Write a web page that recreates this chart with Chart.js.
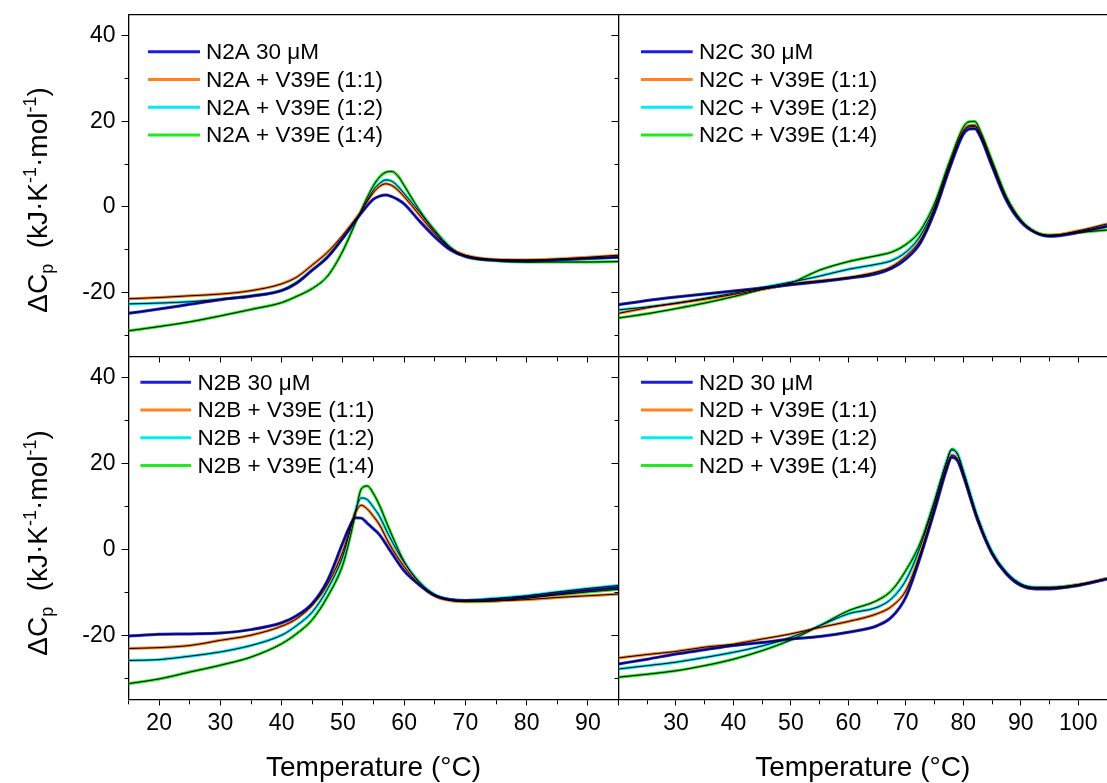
<!DOCTYPE html>
<html><head><meta charset="utf-8">
<script src="https://cdn.jsdelivr.net/npm/chart.js@4.4.1/dist/chart.umd.min.js"></script>
<style>
html,body{margin:0;padding:0;background:#fff;}
#wrap{position:relative;width:1107px;height:783px;overflow:hidden;background:#fff;}
#wrap canvas{position:absolute;left:0;top:0;}
</style></head><body>
<div id="wrap">
<canvas id="cTL" width="1107" height="783"></canvas>
<canvas id="cTR" width="1107" height="783"></canvas>
<canvas id="cBL" width="1107" height="783"></canvas>
<canvas id="cBR" width="1107" height="783"></canvas>
</div>
<script>
// ---------------- DATA ----------------
const yTickValues = [-30, -20, -10, 0, 10, 20, 30, 40];
const yTickLabels = [-20, 0, 20, 40];
const seriesSuffix = [" 30 \u03bcM", " + V39E (1:1)", " + V39E (1:2)", " + V39E (1:4)"];

// N2A (top left)
const tempN2A = [15,20,25,30,35,40,42.5,45,47.5,50,52.5,55,56,57,58,59,60,62.5,65,67.5,70,75,80,85,90,95];
const n2a_30  = [-24.9,-23.9,-22.8,-21.7,-20.9,-19.6,-17.8,-14.8,-11.8,-7.3,-2.4,1.8,2.5,2.8,2.4,1.7,0.7,-3.3,-7.0,-10.0,-11.6,-12.5,-12.7,-12.4,-12.1,-11.8];
const n2a_11  = [-21.5,-21.2,-20.8,-20.4,-19.6,-18.0,-16.4,-13.6,-10.6,-6.6,-2.0,3.4,4.8,5.4,5.0,3.9,2.4,-1.9,-6.2,-9.7,-11.3,-12.3,-12.4,-12.2,-11.8,-11.3];
const n2a_12  = [-22.7,-22.5,-22.2,-21.6,-20.8,-19.5,-17.6,-14.8,-11.6,-7.2,-2.3,4.0,5.5,6.3,6.0,4.8,3.1,-1.2,-5.8,-9.5,-11.4,-12.4,-12.5,-12.3,-12.0,-11.7];
const n2a_14  = [-29.0,-28.0,-26.9,-25.5,-24.0,-22.4,-20.9,-19.1,-16.2,-10.3,-2.3,5.0,7.0,8.1,8.3,7.2,5.0,-0.8,-5.5,-9.4,-11.6,-12.6,-12.9,-12.9,-12.9,-12.8];

// N2C (top right)
const tempN2C = [20,25,30,35,40,45,50,55,60,65,67.5,70,72.5,75,77.5,80,81,82,83,85,87.5,90,92.5,95,100,105];
const n2c_30  = [-22.9,-21.9,-21.1,-20.4,-19.7,-19.0,-18.2,-17.5,-16.7,-15.6,-14.4,-12.2,-8.5,-1.2,8.6,17.0,18.2,18.3,16.3,9.5,1.5,-3.5,-6.0,-6.9,-6.0,-4.5];
const n2c_11  = [-24.9,-23.6,-22.6,-21.6,-20.5,-19.3,-18.0,-17.3,-16.5,-15.2,-14.0,-11.6,-7.8,-0.6,9.3,17.8,19.0,19.1,17.0,10.0,1.8,-3.3,-6.0,-6.7,-5.6,-4.0];
const n2c_12  = [-24.1,-23.4,-22.5,-21.4,-20.2,-18.9,-17.6,-16.2,-14.6,-13.4,-12.6,-10.6,-6.8,0.0,9.5,17.6,18.7,18.8,16.8,10.2,2.0,-3.2,-6.0,-6.8,-5.8,-4.6];
const n2c_14  = [-26.0,-25.0,-23.8,-22.5,-21.0,-19.3,-17.8,-14.8,-12.8,-11.4,-10.6,-8.8,-5.6,0.8,10.2,18.6,19.9,20.0,17.6,10.8,2.4,-3.0,-5.8,-6.6,-6.0,-5.4];

// N2B (bottom left)
const tempN2B = [15,20,25,30,35,40,42.5,45,47.5,50,51,52,53,54,55,56,57.5,60,62.5,65,67.5,70,75,80,85,90,95];
const n2b_30  = [-20.2,-19.8,-19.7,-19.5,-18.7,-17.1,-15.4,-12.6,-7.2,1.6,5.0,7.4,7.3,6.1,4.8,3.4,0.2,-5.0,-8.3,-10.7,-11.7,-11.9,-11.7,-11.1,-10.3,-9.5,-8.9];
const n2b_11  = [-23.1,-22.9,-22.4,-21.2,-20.0,-17.9,-16.1,-13.0,-8.1,-0.5,4.0,8.4,10.3,9.4,7.7,5.7,1.5,-4.0,-8.2,-10.9,-11.9,-12.1,-12.0,-11.7,-11.2,-10.8,-10.4];
const n2b_12  = [-25.9,-25.7,-24.9,-23.9,-22.4,-20.0,-17.7,-14.6,-9.2,-1.5,3.5,8.8,12.0,11.6,9.8,7.7,3.3,-3.0,-7.8,-10.6,-11.7,-11.9,-11.4,-10.8,-9.9,-9.1,-8.4];
const n2b_14  = [-31.3,-30.2,-28.6,-27.0,-25.1,-22.0,-19.6,-16.4,-11.0,-3.5,1.8,8.0,14.1,14.8,13.0,10.2,5.0,-2.8,-7.6,-10.6,-11.8,-12.2,-12.0,-11.4,-10.6,-9.9,-9.3];

// N2D (bottom right)
const tempN2D = [20,25,30,35,40,45,50,55,60,65,67.5,70,72.5,75,76,77,78,79,80,82.5,85,87.5,90,92.5,95,100,105];
const n2d_30  = [-26.7,-25.6,-24.4,-23.4,-22.4,-21.7,-20.9,-20.3,-19.3,-17.8,-15.8,-11.1,-1.8,9.1,13.8,18.3,21.5,20.7,17.2,6.8,-1.0,-5.7,-8.4,-9.2,-9.2,-8.4,-6.9];
const n2d_11  = [-25.3,-24.5,-23.8,-22.8,-22.1,-20.9,-19.7,-18.2,-16.8,-15.0,-13.3,-9.6,-1.0,10.0,14.6,19.0,22.0,21.0,17.3,6.8,-1.0,-5.7,-8.3,-9.0,-9.0,-8.2,-6.8];
const n2d_12  = [-27.9,-27.1,-26.3,-25.2,-24.0,-22.5,-20.5,-17.8,-15.0,-13.5,-11.5,-7.2,0.6,11.0,15.6,20.0,23.2,22.2,18.3,7.5,-0.5,-5.3,-8.0,-8.8,-8.8,-8.2,-6.8];
const n2d_14  = [-29.8,-29.1,-28.3,-27.1,-25.6,-23.6,-21.1,-17.8,-14.3,-11.9,-9.6,-4.9,1.5,11.4,15.9,20.2,23.4,22.2,18.1,7.2,-0.8,-5.6,-8.3,-9.0,-9.0,-8.4,-6.8];

// ---------------- STYLE ----------------
const FONT = "'Liberation Sans', Arial, Helvetica, sans-serif";
const COLORS = ['rgb(28,28,228)', 'rgb(255,130,30)', 'rgb(0,236,246)', 'rgb(30,236,30)'];
const W = 1107, H = 783;

const legendPlugin = {
  id: 'panelLegend',
  afterDraw(chart, args, o) {
    if (!o || !o.x0) return;
    const ctx = chart.ctx;
    ctx.save();
    const items = chart.data.datasets.filter(d => !d.isFit);
    items.forEach((d, i) => {
      const y = o.y0 + i * o.dy;
      ctx.strokeStyle = d.borderColor; ctx.lineWidth = 3; ctx.lineCap = 'butt';
      ctx.beginPath(); ctx.moveTo(o.x0, y); ctx.lineTo(o.x1, y); ctx.stroke();
      ctx.fillStyle = '#000'; ctx.font = '22.5px ' + FONT; ctx.textBaseline = 'middle'; ctx.textAlign = 'left';
      ctx.fillText(d.label, o.tx, y + 1);
    });
    ctx.restore();
  }
};

const yTitlePlugin = {
  id: 'yTitle',
  afterDraw(chart, args, o) {
    if (!o || !o.show) return;
    const ctx = chart.ctx;
    const big = '28px ' + FONT, small = '18px ' + FONT;
    const parts = [
      {t: '\u0394C', f: big, dy: 0},
      {t: 'p', f: small, dy: 6},
      {t: '  (kJ\u00b7K', f: big, dy: 0},
      {t: '-1', f: small, dy: -11},
      {t: '\u00b7mol', f: big, dy: 0},
      {t: '-1', f: small, dy: -11},
      {t: ')', f: big, dy: 0}
    ];
    ctx.save();
    let total = 0;
    parts.forEach(p => { ctx.font = p.f; p.w = ctx.measureText(p.t).width; total += p.w; });
    ctx.translate(o.x, o.y);
    ctx.rotate(-Math.PI / 2);
    ctx.fillStyle = '#000'; ctx.textBaseline = 'alphabetic'; ctx.textAlign = 'left';
    let x = -total / 2;
    parts.forEach(p => { ctx.font = p.f; ctx.fillText(p.t, x, p.dy); x += p.w; });
    ctx.restore();
  }
};

function xScale(min, max, cfg) {
  return {
    type: 'linear', position: 'bottom', min, max,
    ticks: {
      display: cfg.labels, stepSize: 5, autoSkip: false, maxRotation: 0, includeBounds: false,
      color: '#000', font: {family: FONT, size: 23}, padding: 4,
      callback: v => (v % 10 === 0 && v !== cfg.skip) ? String(v) : ''
    },
    grid: {
      display: true, drawOnChartArea: false, drawTicks: true, tickLength: 6, tickColor: '#000', tickWidth: 1,
      tickBorderDash: c => (c.tick && c.tick.value % 10 !== 0) ? [4, 60] : []
    },
    border: {display: true, color: '#000', width: 1.3},
    title: {display: cfg.labels, text: 'Temperature (\u00b0C)', color: '#000', font: {family: FONT, size: 28}, padding: {top: 0, bottom: -2}},
    afterFit: s => { s.height = cfg.h; s.paddingLeft = 0; s.paddingRight = 0; }
  };
}
function yScale(cfg) {
  return {
    type: 'linear', position: 'left', min: -35, max: 45,
    afterBuildTicks: s => { s.ticks = yTickValues.map(v => ({value: v})); },
    ticks: {
      display: cfg.labels, autoSkip: false,
      color: '#000', font: {family: FONT, size: 23}, padding: 6,
      callback: v => yTickLabels.includes(v) ? String(v) : ''
    },
    grid: {
      display: true, drawOnChartArea: false, drawTicks: true, tickLength: 7, tickColor: '#000', tickWidth: 1,
      tickBorderDash: c => (c.tick && c.tick.value % 20 !== 0) ? [0, 3, 4, 60] : []
    },
    border: {display: true, color: '#000', width: 1.3},
    afterFit: s => { s.width = cfg.w; s.paddingTop = 0; s.paddingBottom = 0; }
  };
}
function topScale(min, max) {
  return {
    type: 'linear', position: 'top', min, max,
    ticks: {display: false}, grid: {display: false},
    border: {display: true, color: '#000', width: 1.3},
    afterFit: s => { s.height = 0; s.paddingLeft = 0; s.paddingRight = 0; }
  };
}

function makePanel(id, p) {
  const ds = [];
  p.series.forEach((s, i) => ds.push({
    label: p.name + seriesSuffix[i],
    data: p.temps.map((t, k) => ({x: t, y: s[k]})),
    borderColor: COLORS[i], borderWidth: 3, pointRadius: 0, fill: false,
    cubicInterpolationMode: 'monotone', order: 1
  }));
  p.series.forEach((s, i) => ds.push({
    label: 'fit', isFit: true,
    data: p.temps.map((t, k) => ({x: t, y: s[k]})),
    borderColor: '#000', borderWidth: 1, pointRadius: 0, fill: false,
    cubicInterpolationMode: 'monotone', order: 0
  }));
  const scales = {
    x: xScale(p.xMin, p.xMax, {labels: p.bottom, h: p.bottom ? (H - p.area.bottom) : 0, skip: p.skip}),
    y: yScale({labels: p.left, w: p.area.left - p.padL})
  };
  if (p.top) scales.xt = topScale(p.xMin, p.xMax);
  return new Chart(document.getElementById(id), {
    type: 'line',
    data: {datasets: ds},
    options: {
      responsive: false, animation: false, devicePixelRatio: 1,
      layout: {autoPadding: false, padding: {left: p.padL, top: p.area.top, right: W - p.area.right, bottom: p.bottom ? 0 : (H - p.area.bottom)}},
      plugins: {legend: {display: false}, tooltip: {enabled: false},
        panelLegend: p.legend, yTitle: p.ytitle},
      scales
    },
    plugins: [legendPlugin, yTitlePlugin]
  });
}

makePanel('cTL', {name: 'N2A', temps: tempN2A, series: [n2a_30, n2a_11, n2a_12, n2a_14], xMin: 15, xMax: 95,
  area: {left: 128.5, right: 618.5, top: 14.5, bottom: 356.5}, padL: 0, left: true, bottom: false, top: true,
  legend: {x0: 148, x1: 200, tx: 206, y0: 51.7, dy: 27.8}, ytitle: {show: true, x: 47, y: 200}});
makePanel('cTR', {name: 'N2C', temps: tempN2C, series: [n2c_30, n2c_11, n2c_12, n2c_14], xMin: 20, xMax: 105,
  area: {left: 618.5, right: 1107, top: 14.5, bottom: 356.5}, padL: 618.5, left: false, bottom: false, top: true,
  legend: {x0: 641, x1: 692.7, tx: 699, y0: 51.7, dy: 27.8}, ytitle: {show: false}});
makePanel('cBL', {name: 'N2B', temps: tempN2B, series: [n2b_30, n2b_11, n2b_12, n2b_14], xMin: 15, xMax: 95,
  area: {left: 128.5, right: 618.5, top: 356.5, bottom: 699.5}, padL: 0, left: true, bottom: true, top: false,
  legend: {x0: 140.4, x1: 191, tx: 197.5, y0: 382.3, dy: 27.7}, ytitle: {show: true, x: 47, y: 543}});
makePanel('cBR', {name: 'N2D', temps: tempN2D, series: [n2d_30, n2d_11, n2d_12, n2d_14], xMin: 20, xMax: 105, skip: 20,
  area: {left: 618.5, right: 1107, top: 356.5, bottom: 699.5}, padL: 618.5, left: false, bottom: true, top: false,
  legend: {x0: 641, x1: 692.7, tx: 699, y0: 382.3, dy: 27.7}, ytitle: {show: false}});
</script>
</body></html>
